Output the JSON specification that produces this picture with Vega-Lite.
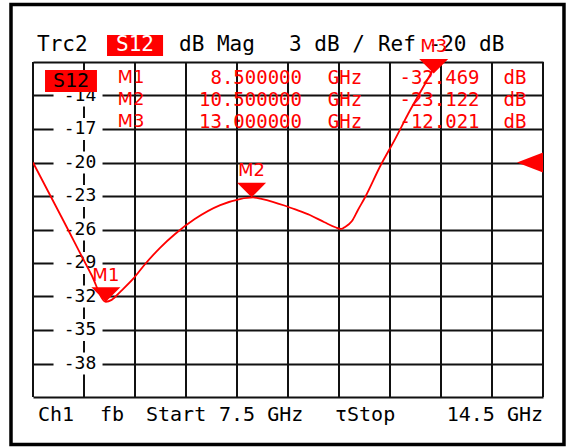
{
  "$schema": "https://vega.github.io/schema/vega-lite/v6.json",
  "width": 510,
  "height": 335,
  "autosize": "none",
  "padding": {"left": 33, "top": 62, "right": 24, "bottom": 50},
  "background": "white",
  "config": {"view": {"stroke": null}},
  "datasets": {
    "gridx": [
      {"f": 7.5}, {"f": 8.2}, {"f": 8.9}, {"f": 9.6}, {"f": 10.3}, {"f": 11.0},
      {"f": 11.7}, {"f": 12.4}, {"f": 13.1}, {"f": 13.8}, {"f": 14.5}
    ],
    "trace": [
      {"f": 7.5, "db": -20.0},
      {"f": 7.9, "db": -24.99},
      {"f": 8.3, "db": -30.03},
      {"f": 8.5, "db": -32.47},
      {"f": 8.58, "db": -32.3},
      {"f": 8.694, "db": -31.6},
      {"f": 8.873, "db": -30.43},
      {"f": 9.04, "db": -29.09},
      {"f": 9.24, "db": -27.66},
      {"f": 9.45, "db": -26.4},
      {"f": 9.72, "db": -25.06},
      {"f": 10.07, "db": -23.81},
      {"f": 10.34, "db": -23.27},
      {"f": 10.52, "db": -23.13},
      {"f": 10.65, "db": -23.28},
      {"f": 10.79, "db": -23.52},
      {"f": 10.95, "db": -23.85},
      {"f": 11.1, "db": -24.2},
      {"f": 11.3, "db": -24.7},
      {"f": 11.5, "db": -25.35},
      {"f": 11.65, "db": -25.8},
      {"f": 11.73, "db": -25.95},
      {"f": 11.782, "db": -25.78},
      {"f": 11.878, "db": -25.24},
      {"f": 11.96, "db": -24.25},
      {"f": 12.06, "db": -23.09},
      {"f": 12.26, "db": -20.4},
      {"f": 12.47, "db": -17.9},
      {"f": 12.67, "db": -15.39},
      {"f": 12.88, "db": -12.97},
      {"f": 13.045, "db": -11.09},
      {"f": 13.155, "db": -9.93}
    ],
    "markers": [
      {"marker": "M1", "freq": 8.5, "value": -32.469},
      {"marker": "M2", "freq": 10.5, "value": -23.122},
      {"marker": "M3", "freq": 13.0, "value": -12.021}
    ],
    "ticks": [
      {"db": -14}, {"db": -17}, {"db": -20}, {"db": -23}, {"db": -26},
      {"db": -29}, {"db": -32}, {"db": -35}, {"db": -38}
    ]
  },
  "resolve": {"scale": {"y": "independent"}},
  "layer": [
    {
      "data": {"values": [{}]},
      "mark": {"type": "rect", "fill": "transparent", "stroke": "#000", "strokeWidth": 3.5},
      "encoding": {
        "x": {"datum": 7.198, "type": "quantitative", "scale": {"domain": [7.5, 14.5], "nice": false, "zero": false}, "axis": null},
        "x2": {"datum": 14.788},
        "y": {"datum": -5.851, "type": "quantitative", "scale": {"domain": [-41, -11], "nice": false, "zero": false},
              "axis": {"values": [-41, -38, -35, -32, -29, -26, -23, -20, -17, -14, -11], "grid": true, "labels": false, "ticks": false, "domain": false, "title": null, "gridColor": "#111111", "gridWidth": 2, "gridOpacity": 1}},
        "y2": {"datum": -45.253}
      }
    },
    {
      "data": {"name": "gridx"},
      "mark": {"type": "rule", "color": "#111111", "strokeWidth": 2},
      "encoding": {
        "x": {"field": "f", "type": "quantitative", "scale": {"domain": [7.5, 14.5], "nice": false, "zero": false}, "axis": null}
      }
    },
    {
      "data": {"name": "ticks"},
      "mark": {"type": "point", "shape": "M-1,-0.45L1,-0.45L1,0.45L-1,0.45Z", "size": 2401, "filled": true, "fill": "white", "opacity": 1, "strokeWidth": 0},
      "encoding": {
        "x": {"datum": 8.118, "type": "quantitative", "scale": {"domain": [7.5, 14.5], "nice": false, "zero": false}, "axis": null},
        "y": {"field": "db", "type": "quantitative", "scale": {"domain": [-41, -11], "nice": false, "zero": false}, "axis": null}
      }
    },
    {
      "data": {"name": "ticks"},
      "mark": {"type": "text", "font": "DejaVu Sans Mono", "fontSize": 18, "color": "#000", "align": "center", "baseline": "middle"},
      "encoding": {
        "x": {"datum": 8.145, "type": "quantitative", "scale": {"domain": [7.5, 14.5], "nice": false, "zero": false}, "axis": null},
        "y": {"field": "db", "type": "quantitative", "scale": {"domain": [-41, -11], "nice": false, "zero": false}, "axis": null},
        "text": {"field": "db", "type": "nominal"}
      }
    },
    {
      "data": {"name": "trace"},
      "mark": {"type": "line", "color": "#ff0000", "strokeWidth": 1.8, "interpolate": "monotone", "clip": true},
      "encoding": {
        "x": {"field": "f", "type": "quantitative", "scale": {"domain": [7.5, 14.5], "nice": false, "zero": false}, "axis": null},
        "y": {"field": "db", "type": "quantitative", "scale": {"domain": [-41, -11], "nice": false, "zero": false}, "axis": null}
      }
    },
    {
      "data": {"name": "markers"},
      "mark": {"type": "text", "font": "DejaVu Sans", "fontSize": 18, "color": "#ff0000", "align": "center", "baseline": "middle"},
      "encoding": {
        "x": {"datum": 8.845, "type": "quantitative", "scale": {"domain": [7.5, 14.5], "nice": false, "zero": false}, "axis": null},
        "y": {"field": "marker", "type": "ordinal", "scale": {"type": "point", "domain": ["M1", "M2", "M3"], "range": [15.5, 60], "padding": 0}, "axis": null},
        "text": {"field": "marker", "type": "nominal"}
      }
    },
    {
      "data": {"name": "markers"},
      "mark": {"type": "text", "font": "DejaVu Sans Mono", "fontSize": 19, "color": "#ff0000", "align": "right", "baseline": "middle"},
      "encoding": {
        "x": {"datum": 11.192, "type": "quantitative", "scale": {"domain": [7.5, 14.5], "nice": false, "zero": false}, "axis": null},
        "y": {"field": "marker", "type": "ordinal", "scale": {"type": "point", "domain": ["M1", "M2", "M3"], "range": [15.5, 60], "padding": 0}, "axis": null},
        "text": {"field": "freq", "type": "quantitative", "format": ".6f"}
      }
    },
    {
      "data": {"name": "markers"},
      "mark": {"type": "text", "font": "DejaVu Sans Mono", "fontSize": 19, "color": "#ff0000", "align": "center", "baseline": "middle", "text": "GHz"},
      "encoding": {
        "x": {"datum": 11.782, "type": "quantitative", "scale": {"domain": [7.5, 14.5], "nice": false, "zero": false}, "axis": null},
        "y": {"field": "marker", "type": "ordinal", "scale": {"type": "point", "domain": ["M1", "M2", "M3"], "range": [15.5, 60], "padding": 0}, "axis": null}
      }
    },
    {
      "data": {"name": "markers"},
      "mark": {"type": "text", "font": "DejaVu Sans Mono", "fontSize": 19, "color": "#ff0000", "align": "center", "baseline": "middle"},
      "encoding": {
        "x": {"datum": 13.079, "type": "quantitative", "scale": {"domain": [7.5, 14.5], "nice": false, "zero": false}, "axis": null},
        "y": {"field": "marker", "type": "ordinal", "scale": {"type": "point", "domain": ["M1", "M2", "M3"], "range": [15.5, 60], "padding": 0}, "axis": null},
        "text": {"field": "value", "type": "nominal"}
      }
    },
    {
      "data": {"name": "markers"},
      "mark": {"type": "text", "font": "DejaVu Sans Mono", "fontSize": 19, "color": "#ff0000", "align": "center", "baseline": "middle", "text": "dB"},
      "encoding": {
        "x": {"datum": 14.115, "type": "quantitative", "scale": {"domain": [7.5, 14.5], "nice": false, "zero": false}, "axis": null},
        "y": {"field": "marker", "type": "ordinal", "scale": {"type": "point", "domain": ["M1", "M2", "M3"], "range": [15.5, 60], "padding": 0}, "axis": null}
      }
    },
    {
      "data": {"values": [{}]},
      "mark": {"type": "rect", "color": "#ff0000"},
      "encoding": {
        "x": {"datum": 7.665, "type": "quantitative", "scale": {"domain": [7.5, 14.5], "nice": false, "zero": false}, "axis": null},
        "x2": {"datum": 8.378},
        "y": {"datum": -11.716, "type": "quantitative", "scale": {"domain": [-41, -11], "nice": false, "zero": false}, "axis": null},
        "y2": {"datum": -13.687}
      }
    },
    {
      "data": {"values": [{}]},
      "mark": {"type": "text", "text": "S12", "font": "DejaVu Sans Mono", "fontSize": 20, "color": "#000", "align": "center", "baseline": "middle"},
      "encoding": {
        "x": {"datum": 8.022, "type": "quantitative", "scale": {"domain": [7.5, 14.5], "nice": false, "zero": false}, "axis": null},
        "y": {"datum": -12.7, "type": "quantitative", "scale": {"domain": [-41, -11], "nice": false, "zero": false}, "axis": null}
      }
    },
    {
      "data": {"values": [{}]},
      "mark": {"type": "text", "text": "Trc2", "font": "DejaVu Sans Mono", "fontSize": 21, "color": "#000", "align": "left", "baseline": "middle"},
      "encoding": {
        "x": {"datum": 7.555, "type": "quantitative", "scale": {"domain": [7.5, 14.5], "nice": false, "zero": false}, "axis": null},
        "y": {"datum": -9.52, "type": "quantitative", "scale": {"domain": [-41, -11], "nice": false, "zero": false}, "axis": null}
      }
    },
    {
      "data": {"values": [{}]},
      "mark": {"type": "rect", "color": "#ff0000"},
      "encoding": {
        "x": {"datum": 8.516, "type": "quantitative", "scale": {"domain": [7.5, 14.5], "nice": false, "zero": false}, "axis": null},
        "x2": {"datum": 9.285},
        "y": {"datum": -8.582, "type": "quantitative", "scale": {"domain": [-41, -11], "nice": false, "zero": false}, "axis": null},
        "y2": {"datum": -10.463}
      }
    },
    {
      "data": {"values": [{}]},
      "mark": {"type": "text", "text": "S12", "font": "DejaVu Sans Mono", "fontSize": 21, "color": "#ffffff", "align": "center", "baseline": "middle"},
      "encoding": {
        "x": {"datum": 8.9, "type": "quantitative", "scale": {"domain": [7.5, 14.5], "nice": false, "zero": false}, "axis": null},
        "y": {"datum": -9.52, "type": "quantitative", "scale": {"domain": [-41, -11], "nice": false, "zero": false}, "axis": null}
      }
    },
    {
      "data": {"values": [{}]},
      "mark": {"type": "text", "text": "dB Mag", "font": "DejaVu Sans Mono", "fontSize": 21, "color": "#000", "align": "left", "baseline": "middle"},
      "encoding": {
        "x": {"datum": 9.504, "type": "quantitative", "scale": {"domain": [7.5, 14.5], "nice": false, "zero": false}, "axis": null},
        "y": {"datum": -9.52, "type": "quantitative", "scale": {"domain": [-41, -11], "nice": false, "zero": false}, "axis": null}
      }
    },
    {
      "data": {"values": [{}]},
      "mark": {"type": "text", "text": "3 dB /", "font": "DejaVu Sans Mono", "fontSize": 21, "color": "#000", "align": "left", "baseline": "middle"},
      "encoding": {
        "x": {"datum": 11.014, "type": "quantitative", "scale": {"domain": [7.5, 14.5], "nice": false, "zero": false}, "axis": null},
        "y": {"datum": -9.52, "type": "quantitative", "scale": {"domain": [-41, -11], "nice": false, "zero": false}, "axis": null}
      }
    },
    {
      "data": {"values": [{}]},
      "mark": {"type": "text", "text": "Ref -20 dB", "font": "DejaVu Sans Mono", "fontSize": 21, "color": "#000", "align": "left", "baseline": "middle"},
      "encoding": {
        "x": {"datum": 12.235, "type": "quantitative", "scale": {"domain": [7.5, 14.5], "nice": false, "zero": false}, "axis": null},
        "y": {"datum": -9.52, "type": "quantitative", "scale": {"domain": [-41, -11], "nice": false, "zero": false}, "axis": null}
      }
    },
    {
      "data": {"values": [{}]},
      "mark": {"type": "text", "text": "Ch1", "font": "DejaVu Sans Mono", "fontSize": 20, "color": "#000", "align": "left", "baseline": "middle"},
      "encoding": {
        "x": {"datum": 7.569, "type": "quantitative", "scale": {"domain": [7.5, 14.5], "nice": false, "zero": false}, "axis": null},
        "y": {"datum": -42.61, "type": "quantitative", "scale": {"domain": [-41, -11], "nice": false, "zero": false}, "axis": null}
      }
    },
    {
      "data": {"values": [{}]},
      "mark": {"type": "text", "text": "fb", "font": "DejaVu Sans Mono", "fontSize": 20, "color": "#000", "align": "left", "baseline": "middle"},
      "encoding": {
        "x": {"datum": 8.42, "type": "quantitative", "scale": {"domain": [7.5, 14.5], "nice": false, "zero": false}, "axis": null},
        "y": {"datum": -42.61, "type": "quantitative", "scale": {"domain": [-41, -11], "nice": false, "zero": false}, "axis": null}
      }
    },
    {
      "data": {"values": [{}]},
      "mark": {"type": "text", "text": "Start", "font": "DejaVu Sans Mono", "fontSize": 20, "color": "#000", "align": "left", "baseline": "middle"},
      "encoding": {
        "x": {"datum": 9.051, "type": "quantitative", "scale": {"domain": [7.5, 14.5], "nice": false, "zero": false}, "axis": null},
        "y": {"datum": -42.61, "type": "quantitative", "scale": {"domain": [-41, -11], "nice": false, "zero": false}, "axis": null}
      }
    },
    {
      "data": {"values": [{}]},
      "mark": {"type": "text", "text": "7.5 GHz", "font": "DejaVu Sans Mono", "fontSize": 20, "color": "#000", "align": "left", "baseline": "middle"},
      "encoding": {
        "x": {"datum": 10.053, "type": "quantitative", "scale": {"domain": [7.5, 14.5], "nice": false, "zero": false}, "axis": null},
        "y": {"datum": -42.61, "type": "quantitative", "scale": {"domain": [-41, -11], "nice": false, "zero": false}, "axis": null}
      }
    },
    {
      "data": {"values": [{}]},
      "mark": {"type": "text", "text": "τStop", "font": "DejaVu Sans Mono", "fontSize": 20, "color": "#000", "align": "left", "baseline": "middle"},
      "encoding": {
        "x": {"datum": 11.645, "type": "quantitative", "scale": {"domain": [7.5, 14.5], "nice": false, "zero": false}, "axis": null},
        "y": {"datum": -42.61, "type": "quantitative", "scale": {"domain": [-41, -11], "nice": false, "zero": false}, "axis": null}
      }
    },
    {
      "data": {"values": [{}]},
      "mark": {"type": "text", "text": "14.5 GHz", "font": "DejaVu Sans Mono", "fontSize": 20, "color": "#000", "align": "right", "baseline": "middle"},
      "encoding": {
        "x": {"datum": 14.5, "type": "quantitative", "scale": {"domain": [7.5, 14.5], "nice": false, "zero": false}, "axis": null},
        "y": {"datum": -42.61, "type": "quantitative", "scale": {"domain": [-41, -11], "nice": false, "zero": false}, "axis": null}
      }
    },
    {
      "data": {"values": [{}]},
      "mark": {"type": "point", "shape": "M0,-0.385L0,0.385L-1,0Z", "size": 2704, "filled": true, "color": "#ff0000", "opacity": 1, "strokeWidth": 0},
      "encoding": {
        "x": {"datum": 14.5, "type": "quantitative", "scale": {"domain": [7.5, 14.5], "nice": false, "zero": false}, "axis": null},
        "y": {"datum": -20, "type": "quantitative", "scale": {"domain": [-41, -11], "nice": false, "zero": false}, "axis": null}
      }
    },
    {
      "data": {"name": "markers"},
      "mark": {"type": "point", "shape": "M-1,-1L1,-1L0,0Z", "size": 841, "filled": true, "color": "#ff0000", "opacity": 1, "strokeWidth": 0},
      "encoding": {
        "x": {"field": "freq", "type": "quantitative", "scale": {"domain": [7.5, 14.5], "nice": false, "zero": false}, "axis": null},
        "y": {"field": "value", "type": "quantitative", "scale": {"domain": [-41, -11], "nice": false, "zero": false}, "axis": null}
      }
    },
    {
      "data": {"name": "markers"},
      "mark": {"type": "text", "font": "DejaVu Sans", "fontSize": 18, "color": "#ff0000", "align": "center", "baseline": "middle", "dy": -26},
      "encoding": {
        "x": {"field": "freq", "type": "quantitative", "scale": {"domain": [7.5, 14.5], "nice": false, "zero": false}, "axis": null},
        "y": {"field": "value", "type": "quantitative", "scale": {"domain": [-41, -11], "nice": false, "zero": false}, "axis": null},
        "text": {"field": "marker", "type": "nominal"}
      }
    }
  ]
}
